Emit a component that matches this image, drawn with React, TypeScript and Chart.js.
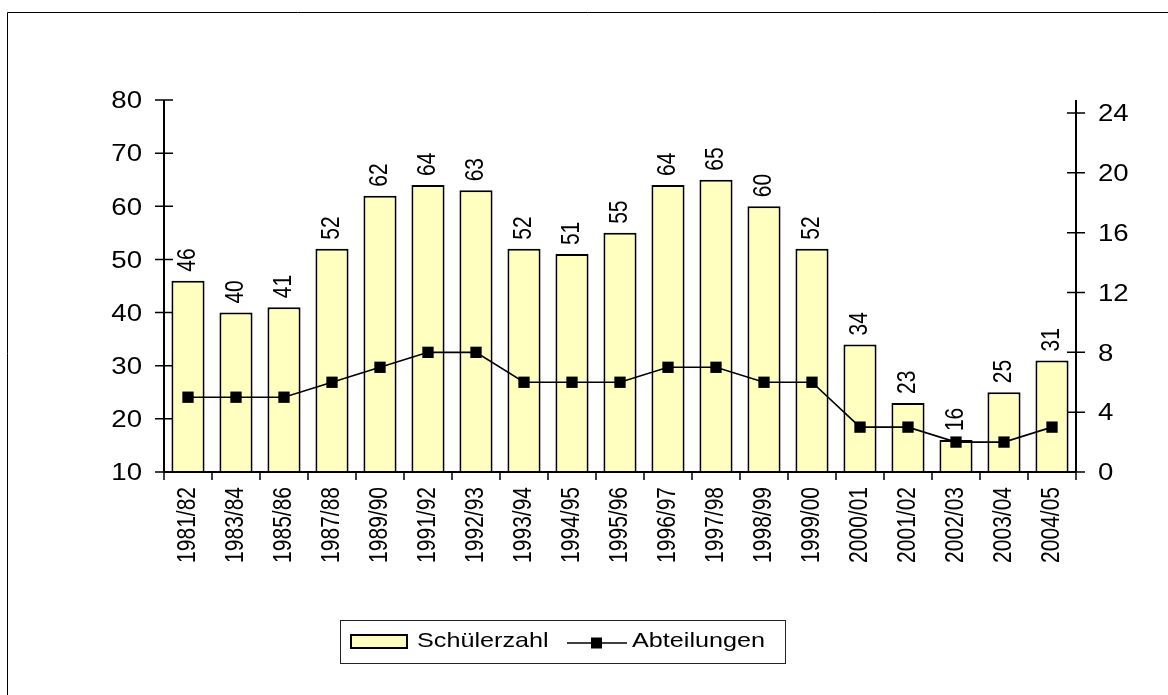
import React, { useEffect, useRef } from 'react';
import { Chart, registerables } from 'chart.js';

Chart.register(...registerables);

const categories = [
  '1981/82', '1983/84', '1985/86', '1987/88', '1989/90', '1991/92', '1992/93',
  '1993/94', '1994/95', '1995/96', '1996/97', '1997/98', '1998/99', '1999/00',
  '2000/01', '2001/02', '2002/03', '2003/04', '2004/05',
];
const schuelerzahl = [46, 40, 41, 52, 62, 64, 63, 52, 51, 55, 64, 65, 60, 52, 34, 23, 16, 25, 31];
const abteilungen = [5, 5, 5, 6, 7, 8, 8, 6, 6, 6, 7, 7, 6, 6, 3, 3, 2, 2, 3];
const leftTicks = [10, 20, 30, 40, 50, 60, 70, 80];
const rightTicks = [0, 4, 8, 12, 16, 20, 24];
const seriesNames = ['Schülerzahl', 'Abteilungen'];

const FONT = '"Liberation Sans", Arial, sans-serif';
const STRETCH = 1.2;
const BAR_FILL = '#FFFFC0';

function hText(ctx: CanvasRenderingContext2D, text: string, x: number, y: number, align: string, size: number) {
  ctx.save();
  ctx.font = `${size}px ${FONT}`;
  ctx.textAlign = 'left';
  ctx.textBaseline = 'alphabetic';
  ctx.fillStyle = '#000';
  const w = ctx.measureText(text).width * STRETCH;
  const sx = align === 'right' ? x - w : align === 'center' ? x - w / 2 : x;
  ctx.translate(sx, y);
  ctx.scale(STRETCH, 1);
  ctx.fillText(text, 0, 0);
  ctx.restore();
}

function vText(ctx: CanvasRenderingContext2D, text: string, x: number, y: number, align: 'start' | 'end', size: number) {
  ctx.save();
  ctx.font = `${size}px ${FONT}`;
  ctx.fillStyle = '#000';
  ctx.textBaseline = 'alphabetic';
  ctx.textAlign = align === 'end' ? 'right' : 'left';
  ctx.translate(x, y);
  ctx.rotate(-Math.PI / 2);
  ctx.scale(1, STRETCH);
  const capH = 0.716 * size;
  ctx.fillText(text, 0, capH / 2);
  ctx.restore();
}

const decorPlugin = {
  id: 'decor',
  afterDraw(chart: any) {
    const ctx: CanvasRenderingContext2D = chart.ctx;
    const { left, right, top, bottom } = chart.chartArea;
    const xs = chart.scales.x;
    const ys = chart.scales.y;
    const y1 = chart.scales.y1;

    ctx.save();
    // outer frame
    ctx.strokeStyle = '#000';
    ctx.lineWidth = 1;
    ctx.beginPath();
    ctx.moveTo(7.5, chart.height);
    ctx.lineTo(7.5, 12.5);
    ctx.lineTo(chart.width, 12.5);
    ctx.stroke();

    // axes lines
    ctx.lineWidth = 2;
    ctx.beginPath();
    ctx.moveTo(left, top);
    ctx.lineTo(left, bottom);
    ctx.lineTo(right, bottom);
    ctx.moveTo(right, top);
    ctx.lineTo(right, bottom);
    ctx.stroke();

    // ticks
    ctx.lineWidth = 1.5;
    ctx.beginPath();
    leftTicks.forEach((v) => {
      const py = ys.getPixelForValue(v);
      ctx.moveTo(left - 9, py);
      ctx.lineTo(left + 9, py);
    });
    rightTicks.forEach((v) => {
      const py = y1.getPixelForValue(v);
      ctx.moveTo(right - 9, py);
      ctx.lineTo(right + 9, py);
    });
    for (let i = 0; i <= categories.length; i++) {
      const px = xs.getPixelForValue(i - 0.5);
      ctx.moveTo(px, bottom);
      ctx.lineTo(px, bottom + 8);
    }
    ctx.stroke();
    ctx.restore();

    // tick labels
    leftTicks.forEach((v) => {
      const py = ys.getPixelForValue(v);
      hText(ctx, String(v), left - 22, py + 8.3, 'right', 23);
    });
    rightTicks.forEach((v) => {
      const py = y1.getPixelForValue(v);
      hText(ctx, String(v), right + 22, py + 8.3, 'left', 23);
    });
    categories.forEach((c, i) => {
      const px = xs.getPixelForValue(i);
      vText(ctx, c, px - 2, bottom + 15, 'end', 21);
    });

    // data labels
    const meta = chart.getDatasetMeta(1);
    meta.data.forEach((el: any, i: number) => {
      vText(ctx, String(schuelerzahl[i]), el.x - 2, el.y - 9, 'start', 21);
    });

    // legend
    ctx.save();
    ctx.strokeStyle = '#222';
    ctx.lineWidth = 1;
    ctx.strokeRect(340.5, 620.5, 445, 43);
    ctx.fillStyle = BAR_FILL;
    ctx.fillRect(351, 635, 56, 13);
    ctx.strokeStyle = '#000';
    ctx.lineWidth = 2;
    ctx.strokeRect(351, 635, 56, 13);
    ctx.lineWidth = 1.5;
    ctx.beginPath();
    ctx.moveTo(567, 643);
    ctx.lineTo(627, 643);
    ctx.stroke();
    ctx.fillStyle = '#000';
    ctx.fillRect(591, 637.5, 11, 11);
    ctx.restore();
    hText(ctx, seriesNames[0], 417, 647, 'left', 21);
    hText(ctx, seriesNames[1], 632, 647, 'left', 21);
  },
};

export default function App() {
  const ref = useRef<HTMLCanvasElement | null>(null);
  useEffect(() => {
    if (!ref.current) return;
    const chart = new Chart(ref.current, {
      type: 'bar',
      data: {
        labels: categories,
        datasets: [
          {
            type: 'line',
            label: seriesNames[1],
            data: abteilungen,
            yAxisID: 'y1',
            borderColor: '#000',
            borderWidth: 1.6,
            pointStyle: 'rect',
            pointRadius: 8,
            pointBackgroundColor: '#000',
            pointBorderColor: '#000',
            pointBorderWidth: 0,
            tension: 0,
            order: 0,
          } as any,
          {
            type: 'bar',
            label: seriesNames[0],
            data: schuelerzahl,
            yAxisID: 'y',
            backgroundColor: BAR_FILL,
            borderColor: '#000',
            borderWidth: 2,
            barPercentage: 0.69,
            categoryPercentage: 1,
            order: 1,
          } as any,
        ],
      },
      options: {
        responsive: false,
        animation: false,
        layout: { padding: { top: 100, left: 0, right: 0, bottom: 0 } },
        plugins: { legend: { display: false }, tooltip: { enabled: false } },
        scales: {
          x: {
            grid: { display: false },
            border: { display: false },
            ticks: { display: false },
            afterFit: (s: any) => { s.height = 223; },
          },
          y: {
            position: 'left',
            min: 10,
            max: 80,
            grid: { display: false },
            border: { display: false },
            ticks: { display: false },
            afterBuildTicks: (s: any) => { s.ticks = leftTicks.map((v) => ({ value: v })); },
            afterFit: (s: any) => { s.width = 164; },
          },
          y1: {
            position: 'right',
            min: 0,
            max: 24.87,
            grid: { display: false },
            border: { display: false },
            ticks: { display: false },
            afterBuildTicks: (s: any) => { s.ticks = rightTicks.map((v) => ({ value: v })); },
            afterFit: (s: any) => { s.width = 92; },
          },
        },
      } as any,
      plugins: [decorPlugin],
    });
    return () => chart.destroy();
  }, []);

  return (
    <div style={{ position: 'absolute', left: 0, top: 0, width: 1168, height: 695, background: '#fff' }}>
      <canvas ref={ref} width={1168} height={695} />
    </div>
  );
}
